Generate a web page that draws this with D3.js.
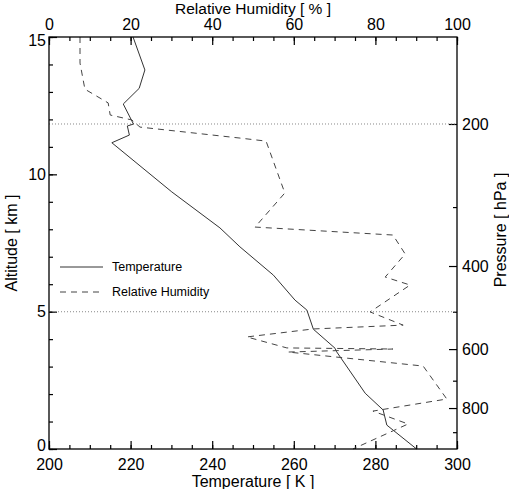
<!DOCTYPE html>
<html>
<head>
<meta charset="utf-8">
<script src="https://d3js.org/d3.v7.min.js"></script>
<style>
  body { margin: 0; background: #fff; }
  text { font-family: "Liberation Sans", Arial, sans-serif; fill: #000; }
</style>
</head>
<body>
<div id="chart"></div>
<script>
// temperature profile (K) vs altitude (km)
const tempK   = [220.6, 223.5, 222.1, 218.2, 220.7, 219.2, 219.7, 215.4, 230.1, 241.9, 246.8, 255.0, 260.3, 263.2, 264.8, 270.1, 270.5, 277.5, 281.9, 282.8, 290.1];
const tempAlt = [15.0, 13.8, 13.13, 12.56, 11.83, 11.76, 11.43, 11.15, 9.36, 8.05, 7.36, 6.33, 5.42, 5.06, 4.36, 3.67, 3.54, 2.03, 1.42, 0.87, 0.0];

// relative humidity profile (%) vs altitude (km)
const rhPct = [7.6, 7.6, 8.8, 14.5, 15.0, 20.3, 22.3, 46.8, 53.2, 57.8, 50.5, 84.3, 87.3, 82.4, 88.5, 78.7, 86.8, 64.7, 48.5, 58.3, 84.3, 58.6, 91.7, 97.5, 79.4, 88.0, 74.5];
const rhAlt = [15.0, 14.05, 13.1, 12.6, 12.16, 11.98, 11.72, 11.32, 11.21, 9.32, 8.08, 7.79, 7.10, 6.26, 5.97, 4.99, 4.51, 4.37, 4.08, 3.68, 3.64, 3.53, 3.02, 1.82, 1.38, 0.91, 0.0];

// axis ticks
const tempTicks = [200, 220, 240, 260, 280, 300];
const rhTicks = [0, 20, 40, 60, 80, 100];
const altTicks = [0, 5, 10, 15];
const presTicks = [200, 400, 600, 800];
const presMinor = [300, 500, 700, 900];
const refLevels = [200, 500]; // dotted pressure levels

const W = 509, H = 489;
const L = 49, R = 457, T = 37, B = 449;

const svg = d3.select("#chart").append("svg")
  .attr("width", W).attr("height", H);

const x = d3.scaleLinear().domain([200, 300]).range([L, R]);
const xRH = d3.scaleLinear().domain([0, 100]).range([L, R]);
const y = d3.scaleLinear().domain([0, 15]).range([B, T]);
// pressure mapped with a scale height of ~7.46 km
const p0 = 977, Hs = 7.46;
const yP = d3.scaleLog().domain([p0, p0 * Math.exp(-15 / Hs)]).range([B, T]);

const fs = "16px";

function styleAxis(g) {
  g.select(".domain").remove();
  g.selectAll(".tick line").attr("stroke", "#000").attr("stroke-width", 1.2);
  g.selectAll(".tick text").style("font-size", fs).attr("fill", "#000");
}

// bottom: temperature
svg.append("g").attr("transform", `translate(0,${B})`)
  .call(d3.axisBottom(x).tickValues(d3.range(200, 301, 5)).tickSize(-4).tickFormat(""))
  .call(styleAxis);
svg.append("g").attr("transform", `translate(0,${B})`)
  .call(d3.axisBottom(x).tickValues(tempTicks).tickSize(-8).tickPadding(9.5).tickFormat(d3.format("d")))
  .call(styleAxis);

// top: relative humidity
svg.append("g").attr("transform", `translate(0,${T})`)
  .call(d3.axisTop(xRH).tickValues(d3.range(0, 101, 5)).tickSize(-4).tickFormat(""))
  .call(styleAxis);
svg.append("g").attr("transform", `translate(0,${T})`)
  .call(d3.axisTop(xRH).tickValues(rhTicks).tickSize(-8).tickPadding(7).tickFormat(d3.format("d")))
  .call(styleAxis);

// left: altitude
svg.append("g").attr("transform", `translate(${L},0)`)
  .call(d3.axisLeft(y).tickValues(d3.range(0, 16, 1)).tickSize(-4).tickFormat(""))
  .call(styleAxis);
const leftAx = svg.append("g").attr("transform", `translate(${L},0)`)
  .call(d3.axisLeft(y).tickValues(altTicks).tickSize(-8).tickPadding(3).tickFormat(d3.format("d")))
  .call(styleAxis);
// end labels sit just inside the frame
leftAx.selectAll(".tick text")
  .attr("y", d => d === 0 ? -3.5 : (d === 15 ? 3.5 : 0));

// right: pressure
svg.append("g").attr("transform", `translate(${R},0)`)
  .call(d3.axisRight(yP).tickValues(presMinor).tickSize(-4).tickFormat(""))
  .call(styleAxis);
svg.append("g").attr("transform", `translate(${R},0)`)
  .call(d3.axisRight(yP).tickValues(presTicks).tickSize(-8).tickPadding(5).tickFormat(d3.format("d")))
  .call(styleAxis);

// dotted reference levels
svg.append("g").selectAll("line").data(refLevels).join("line")
  .attr("x1", L).attr("x2", R)
  .attr("y1", d => yP(d)).attr("y2", d => yP(d))
  .attr("stroke", "#888").attr("stroke-width", 1)
  .attr("stroke-dasharray", "1,2");

// profiles
const tLine = d3.line().x(d => x(d[0])).y(d => y(d[1]));
svg.append("path")
  .datum(tempK.map((t, i) => [t, tempAlt[i]]))
  .attr("fill", "none").attr("stroke", "#333").attr("stroke-width", 1)
  .attr("d", tLine);

const rLine = d3.line().x(d => xRH(d[0])).y(d => y(d[1]));
svg.append("path")
  .datum(rhPct.map((r, i) => [r, rhAlt[i]]))
  .attr("fill", "none").attr("stroke", "#444").attr("stroke-width", 1)
  .attr("stroke-dasharray", "6,5")
  .attr("d", rLine);

// frame
svg.append("rect")
  .attr("x", L).attr("y", T).attr("width", R - L).attr("height", B - T)
  .attr("fill", "none").attr("stroke", "#000").attr("stroke-width", 1.3);

// legend
const legend = svg.append("g");
legend.append("line").attr("x1", 60).attr("x2", 103).attr("y1", 267).attr("y2", 267)
  .attr("stroke", "#333").attr("stroke-width", 1);
legend.append("text").attr("x", 112).attr("y", 271).style("font-size", "12.5px").text("Temperature");
legend.append("line").attr("x1", 60).attr("x2", 103).attr("y1", 292).attr("y2", 292)
  .attr("stroke", "#444").attr("stroke-width", 1).attr("stroke-dasharray", "6,5");
legend.append("text").attr("x", 112).attr("y", 296).style("font-size", "12.5px").text("Relative Humidity");

// axis titles
svg.append("text").attr("x", 253).attr("y", 487).attr("text-anchor", "middle")
  .style("font-size", fs).text("Temperature [ K ]");
svg.append("text").attr("x", 253).attr("y", 13.5).attr("text-anchor", "middle")
  .style("font-size", "15.5px").text("Relative Humidity [ % ]");
svg.append("text").attr("transform", "translate(17,243) rotate(-90)").attr("text-anchor", "middle")
  .style("font-size", fs).text("Altitude [ km ]");
svg.append("text").attr("transform", "translate(506,230) rotate(-90)").attr("text-anchor", "middle")
  .style("font-size", fs).text("Pressure [ hPa ]");
</script>
</body>
</html>
